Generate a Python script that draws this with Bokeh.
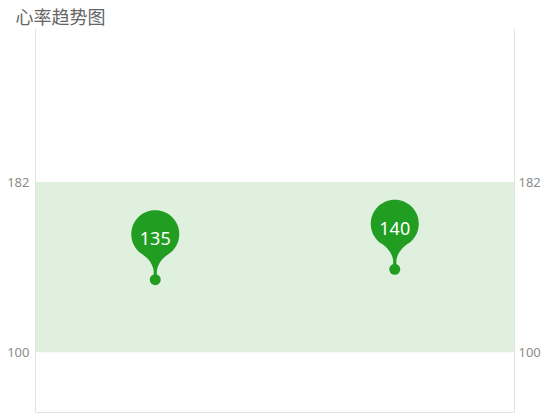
import math
from bokeh.plotting import figure
from bokeh.models import Range1d, FixedTicker, LinearAxis, BoxAnnotation
from bokeh.core.properties import value
from bokeh.embed import file_html
from bokeh.resources import INLINE

title_text = "心率趋势图"
categories = ["第1次", "第2次"]
heart_rates = [135, 140]
normal_low = 100
normal_high = 182
y_ticks = [100, 182]
y_min, y_max = 71, 256

FW, FH = 479, 384
p = figure(frame_width=FW, frame_height=FH, output_backend="svg", toolbar_location=None,
           x_range=Range1d(0, len(categories)), y_range=Range1d(y_min, y_max),
           min_border_left=0, min_border_right=0, min_border_top=20, min_border_bottom=2,
           y_axis_location=None, x_axis_location=None)
p.title.text = title_text
p.title.text_font = "Noto Sans CJK SC"
p.title.text_font_size = "18px"
p.title.text_font_style = "normal"
p.title.text_color = "#666666"
p.title.offset = -20
p.title.standoff = 0
p.outline_line_color = None
p.grid.visible = False
p.background_fill_color = "white"
p.border_fill_color = "white"

line_col = "#e3e3e3"
for loc, so in (("left", 6), ("right", 4)):
    ax = LinearAxis(ticker=FixedTicker(ticks=y_ticks))
    ax.axis_line_color = line_col
    ax.major_tick_line_color = None
    ax.minor_tick_line_color = None
    ax.major_tick_out = 0
    ax.major_tick_in = 0
    ax.major_label_text_font = "Noto Sans"
    ax.major_label_text_font_size = "13px"
    ax.major_label_text_color = "#8c8c8c"
    ax.major_label_standoff = so
    if loc == "left":
        ax.axis_label = " "
        ax.axis_label_text_font_size = "1px"
        ax.axis_label_standoff = 0
    p.add_layout(ax, loc)

bx = LinearAxis(ticker=FixedTicker(ticks=[]))
bx.axis_line_color = line_col
bx.major_tick_line_color = None
bx.minor_tick_line_color = None
bx.major_tick_out = 0
bx.major_label_standoff = 0
bx.major_label_text_font_size = "0px"
p.add_layout(bx, "below")

p.add_layout(BoxAnnotation(bottom=normal_low, top=normal_high, fill_color="#dff0df",
                           fill_alpha=1.0, line_color=None, level="underlay"))

pxx = FW / (len(categories))
pxy = FH / (y_max - y_min)
green = "#219d21"

def pin_shape():
    r, cy = 24, 45.5
    pts = [(1.6, 3.0), (1.6, 9.0)]
    a0 = math.radians(-52)
    sx, sy = r * math.cos(a0), cy + r * math.sin(a0)
    for i in range(1, 11):
        t = i / 10
        x = (1 - t) ** 2 * 1.6 + 2 * (1 - t) * t * 3.5 + t ** 2 * sx
        y = (1 - t) ** 2 * 9.0 + 2 * (1 - t) * t * 20.0 + t ** 2 * sy
        pts.append((x, y))
    for i in range(1, 60):
        a = a0 + (math.pi + 2 * abs(a0)) * i / 60
        pts.append((r * math.cos(a), cy + r * math.sin(a)))
    for i in range(0, 11):
        t = i / 10
        x = (1 - t) ** 2 * (-sx) + 2 * (1 - t) * t * (-3.5) + t ** 2 * (-1.6)
        y = (1 - t) ** 2 * sy + 2 * (1 - t) * t * 20.0 + t ** 2 * 9.0
        pts.append((x, y))
    pts.append((-1.6, 3.0))
    return pts

shape = pin_shape()
xc = [i + 0.5 for i in range(len(categories))]
xs = [[x + dx / pxx for dx, dy in shape] for x in xc]
ys = [[v + dy / pxy for dx, dy in shape] for v in heart_rates]
p.patches(xs, ys, fill_color=green, line_color=None)
p.scatter(xc, heart_rates, size=11, fill_color=green, line_color=None)
p.text(xc, [v + 41 / pxy for v in heart_rates], text=[str(v) for v in heart_rates],
       text_align="center", text_baseline="middle", text_color="white",
       text_font=value("Noto Sans"), text_font_size="18px")

open("out.html", "w").write(file_html(p, INLINE))
